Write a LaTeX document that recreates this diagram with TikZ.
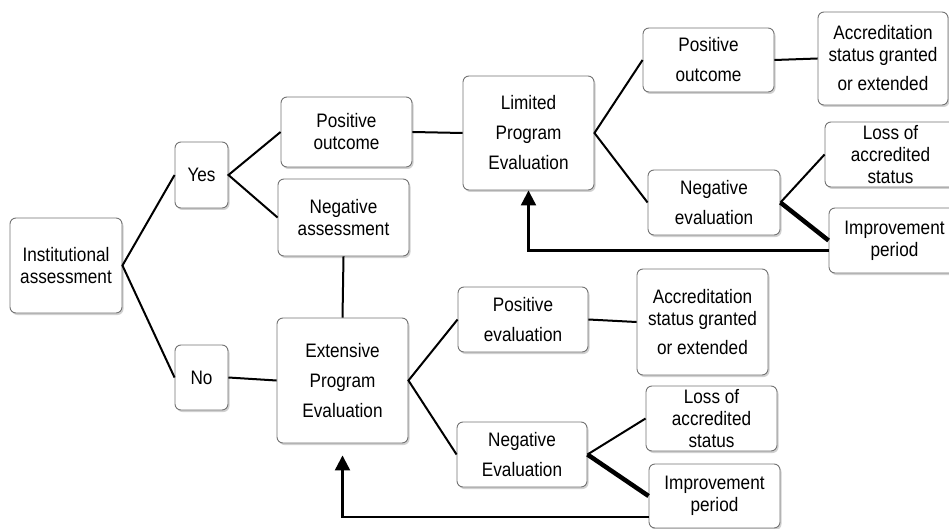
\documentclass[tikz,border=0pt]{standalone}
\usepackage{fontspec}
\setmainfont{Liberation Sans}[FakeStretch=0.88]
\usetikzlibrary{arrows.meta,shadows}
\begin{document}
\begin{tikzpicture}[x=1pt,y=-1pt,
  box/.style={draw=black!55, line width=0.9pt, rounded corners=6pt, fill=white,
    drop shadow={shadow xshift=1.5pt, shadow yshift=-2pt, opacity=0.3, fill=black!60},
    align=center, inner sep=0pt, font=\fontsize{19.5}{22}\selectfont},
  loose/.style={font=\fontsize{19.5}{30}\selectfont},
  link/.style={line width=2pt, draw=black},
  heavy/.style={line width=4.5pt, draw=black},
  back/.style={line width=2.2pt, draw=black, -{Triangle[width=15pt,length=15pt]}}]
\useasboundingbox (0,0) rectangle (949,529);

% Decision column
\node[box, minimum width=112pt, minimum height=95pt] (inst) at (66,265.5) {Institutional\\assessment};
\node[box, minimum width=53pt, minimum height=66pt] (yes) at (201.5,175) {Yes};
\node[box, minimum width=53pt, minimum height=65pt] (no) at (201.5,377.5) {No};

% Institutional path
\node[box, minimum width=131pt, minimum height=70pt] (posout) at (346.5,132) {Positive\\outcome};
\node[box, minimum width=131pt, minimum height=77pt] (negass) at (343.5,217.5) {Negative\\assessment};
\node[box, loose, minimum width=131pt, minimum height=114pt] (limited) at (528.5,133) {Limited\\Program\\Evaluation};
\node[box, loose, minimum width=131pt, minimum height=64pt] (posout2) at (708.5,60) {Positive\\outcome};
\node[box, minimum width=130pt, minimum height=93pt] (acc1) at (883,58.5) {Accreditation\\status granted\\[7pt]or extended};
\node[box, loose, minimum width=132pt, minimum height=65pt] (negev1) at (714,202.5) {Negative\\evaluation};
\node[box, minimum width=131pt, minimum height=65pt] (loss1) at (890.5,154.5) {Loss of\\accredited\\status};
\node[box, minimum width=131pt, minimum height=65pt] (impr1) at (894.5,240.5) {Improvement\\period};

% Extensive path
\node[box, loose, minimum width=131pt, minimum height=125pt] (ext) at (342.5,380.5) {Extensive\\Program\\Evaluation};
\node[box, loose, minimum width=130pt, minimum height=65pt] (poseval) at (523,319.5) {Positive\\evaluation};
\node[box, loose, minimum width=130pt, minimum height=65pt] (negev2) at (522,454.5) {Negative\\Evaluation};
\node[box, minimum width=131pt, minimum height=106pt] (acc2) at (702.5,322) {Accreditation\\status granted\\[7pt]or extended};
\node[box, minimum width=131pt, minimum height=65pt] (loss2) at (711.5,418.5) {Loss of\\accredited\\status};
\node[box, minimum width=131pt, minimum height=64pt] (impr2) at (714.5,496) {Improvement\\period};

% Connectors
\draw[link] (yes.west) -- (inst.east) -- (no.west);
\draw[link] (posout.west) -- (yes.east) -- (negass.west);
\draw[link] (no.east) -- (ext.west);
\draw[link] (negass.south) -- (ext.north);
\draw[link] (posout.east) -- (limited.west);
\draw[link] (posout2.west) -- (limited.east) -- (negev1.west);
\draw[link] (posout2.east) -- (acc1.west);
\draw[link] (loss1.west) -- (negev1.east);
\draw[heavy] (negev1.east) -- (impr1.west);
\draw[link] (poseval.west) -- (ext.east) -- (negev2.west);
\draw[link] (poseval.east) -- (acc2.west);
\draw[link] (loss2.west) -- (negev2.east);
\draw[heavy] (negev2.east) -- (impr2.west);

% Feedback loops
\draw[back] ([yshift=-10pt]impr1.west) -| (limited.south);
\draw[back] ([yshift=-21pt]impr2.west) -| ([yshift=-12pt]ext.south);
\end{tikzpicture}
\end{document}
